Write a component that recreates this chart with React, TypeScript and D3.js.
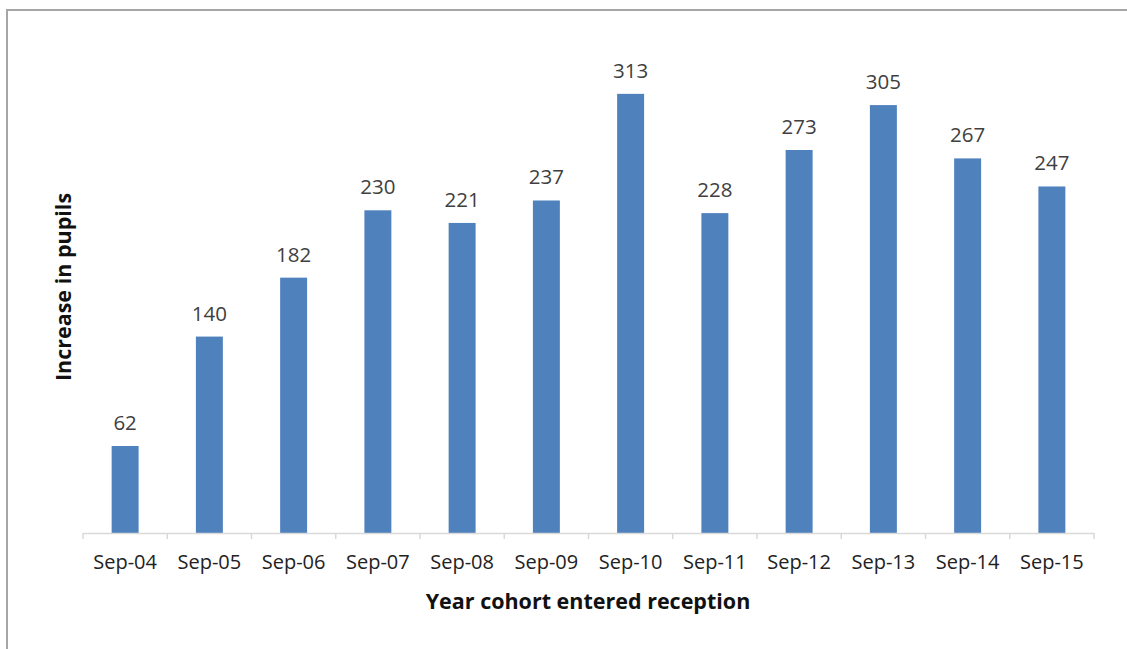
import React, { useEffect, useRef } from 'react';
import * as d3 from 'd3';

const categories = ['Sep-04', 'Sep-05', 'Sep-06', 'Sep-07', 'Sep-08', 'Sep-09', 'Sep-10', 'Sep-11', 'Sep-12', 'Sep-13', 'Sep-14', 'Sep-15'];
const values = [62, 140, 182, 230, 221, 237, 313, 228, 273, 305, 267, 247];

const xTitle = 'Year cohort entered reception';
const yTitle = 'Increase in pupils';

const App: React.FC = () => {
  const svgRef = useRef<SVGSVGElement | null>(null);

  useEffect(() => {
    const width = 1127;
    const height = 649;
    const font = "'Open Sans', sans-serif";

    // plot area, matched to the reference
    const plot = { left: 83, right: 1094, bottom: 533 };

    const svg = d3.select(svgRef.current);
    svg.selectAll('*').remove();
    svg.attr('width', width).attr('height', height).style('display', 'block');

    svg
      .append('rect')
      .attr('width', width)
      .attr('height', height)
      .attr('fill', '#fff');

    // chart frame
    svg
      .append('rect')
      .attr('x', 7)
      .attr('y', 10)
      .attr('width', width + 10)
      .attr('height', height + 10)
      .attr('fill', 'none')
      .attr('stroke', '#a6a6a6')
      .attr('stroke-width', 2);

    const x = d3
      .scaleBand<string>()
      .domain(categories)
      .range([plot.left, plot.right])
      .paddingInner(0.68)
      .paddingOuter(0.34);

    const y = d3.scaleLinear().domain([0, 350]).range([plot.bottom, plot.bottom - 350 * 1.403]);

    svg
      .append('g')
      .selectAll('rect')
      .data(values)
      .join('rect')
      .attr('x', (_, i) => x(categories[i]) as number)
      .attr('y', (d) => y(d))
      .attr('width', x.bandwidth())
      .attr('height', (d) => y(0) - y(d))
      .attr('fill', '#4f81bd');

    svg
      .append('g')
      .selectAll('text')
      .data(values)
      .join('text')
      .attr('x', (_, i) => (x(categories[i]) as number) + x.bandwidth() / 2)
      .attr('y', (d) => y(d) - 16)
      .attr('text-anchor', 'middle')
      .style('font-family', font)
      .style('font-size', '20.5px')
      .attr('fill', '#404040')
      .text((d) => d);

    // category axis with ticks between categories
    const axis = svg.append('g');
    axis
      .append('line')
      .attr('x1', plot.left)
      .attr('x2', plot.right)
      .attr('y1', plot.bottom + 0.5)
      .attr('y2', plot.bottom + 0.5)
      .attr('stroke', '#d9d9d9')
      .attr('stroke-width', 1.5);

    const step = x.step();
    const tickXs = d3.range(categories.length + 1).map((i) => plot.left + i * step);
    axis
      .selectAll('line.tick')
      .data(tickXs)
      .join('line')
      .attr('class', 'tick')
      .attr('x1', (d) => d)
      .attr('x2', (d) => d)
      .attr('y1', plot.bottom)
      .attr('y2', plot.bottom + 6)
      .attr('stroke', '#d9d9d9')
      .attr('stroke-width', 1.5);

    axis
      .selectAll('text')
      .data(categories)
      .join('text')
      .attr('x', (d) => (x(d) as number) + x.bandwidth() / 2)
      .attr('y', 569)
      .attr('text-anchor', 'middle')
      .style('font-family', font)
      .style('font-size', '20px')
      .attr('fill', '#222')
      .text((d) => d);

    svg
      .append('text')
      .attr('x', 588)
      .attr('y', 609)
      .attr('text-anchor', 'middle')
      .style('font-family', font)
      .style('font-size', '21.5px')
      .style('font-weight', 'bold')
      .attr('fill', '#111')
      .text(xTitle);

    svg
      .append('text')
      .attr('transform', 'translate(71,287) rotate(-90)')
      .attr('text-anchor', 'middle')
      .style('font-family', font)
      .style('font-size', '21.5px')
      .style('font-weight', 'bold')
      .attr('fill', '#111')
      .text(yTitle);
  }, []);

  return (
    <div style={{ position: 'absolute', left: 0, top: 0 }}>
      <svg ref={svgRef} />
    </div>
  );
};

export default App;
